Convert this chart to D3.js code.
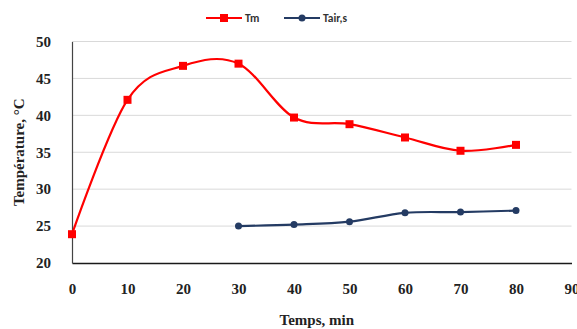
<!DOCTYPE html>
<html>
<head>
<meta charset="utf-8">
<script src="https://cdn.jsdelivr.net/npm/d3@7"></script>
<style>
  html, body { margin: 0; padding: 0; background: #fff; }
  svg { display: block; }
</style>
</head>
<body>
<svg id="chart" width="577" height="329"></svg>
<script>
// Time axis (min) and measured temperatures (°C)
const times = [0, 10, 20, 30, 40, 50, 60, 70, 80];
const tm = [23.9, 42.1, 46.7, 47.0, 39.7, 38.8, 37.0, 35.2, 36.0];
const airTimes = [30, 40, 50, 60, 70, 80];
const tairS = [25.0, 25.2, 25.6, 26.8, 26.9, 27.1];
const xTicks = [0, 10, 20, 30, 40, 50, 60, 70, 80, 90];
const yTicks = [20, 25, 30, 35, 40, 45, 50];
const seriesNames = ["Tm", "Tair,s"];

const svg = d3.select("#chart");
const plotLeft = 72, plotRight = 571.5, plotTop = 41.5, plotBottom = 263;
const serif = "'Liberation Serif', 'Times New Roman', serif";
const sans = "Carlito, 'Liberation Sans', Arial, sans-serif";
const red = "#ff0000", navy = "#243b63";
const smooth = d3.curveCardinal.tension(0);

const x = d3.scaleLinear().domain([0, 90]).range([plotLeft, plotRight]);
const y = d3.scaleLinear().domain([20, 50]).range([plotBottom, plotTop]);

// Horizontal gridlines
svg.append("g")
  .selectAll("line")
  .data(yTicks.filter(d => d > 20))
  .join("line")
  .attr("x1", plotLeft).attr("x2", plotRight)
  .attr("y1", d => y(d)).attr("y2", d => y(d))
  .attr("stroke", "#d9d9d9").attr("stroke-width", 1);

// Axes
const xAxis = svg.append("g")
  .attr("transform", `translate(0,${plotBottom})`)
  .call(d3.axisBottom(x).tickValues(xTicks).tickSize(0).tickPadding(20));
xAxis.select(".domain").attr("stroke", "#1a1a1a").attr("stroke-width", 1.5);
xAxis.selectAll("text")
  .attr("font-family", serif).attr("font-weight", "bold")
  .attr("font-size", 15).attr("fill", "#222");

const yAxis = svg.append("g")
  .attr("transform", `translate(${plotLeft},0)`)
  .call(d3.axisLeft(y).tickValues(yTicks).tickSize(0).tickPadding(21));
yAxis.select(".domain").attr("stroke", "#444").attr("stroke-width", 1.2);
yAxis.selectAll("text")
  .attr("font-family", serif).attr("font-weight", "bold")
  .attr("font-size", 15).attr("fill", "#222");

// Axis titles
svg.append("text")
  .attr("x", (plotLeft + plotRight) / 2 - 5).attr("y", 325)
  .attr("text-anchor", "middle")
  .attr("font-family", serif).attr("font-weight", "bold")
  .attr("font-size", 15).attr("fill", "#222")
  .text("Temps, min");

svg.append("text")
  .attr("transform", `translate(24,${(plotTop + plotBottom) / 2 + 0}) rotate(-90)`)
  .attr("text-anchor", "middle")
  .attr("font-family", serif).attr("font-weight", "bold")
  .attr("font-size", 15).attr("fill", "#222")
  .text("Température, °C");

// Tm: smoothed line with square markers
const tmData = times.map((t, i) => [t, tm[i]]);
svg.append("path")
  .datum(tmData)
  .attr("fill", "none").attr("stroke", red).attr("stroke-width", 2.2)
  .attr("d", d3.line().x(d => x(d[0])).y(d => y(d[1])).curve(smooth));
svg.append("g")
  .selectAll("rect")
  .data(tmData)
  .join("rect")
  .attr("x", d => x(d[0]) - 4).attr("y", d => y(d[1]) - 4)
  .attr("width", 8).attr("height", 8)
  .attr("fill", red);

// Tair,s: smoothed line with round markers
const airData = airTimes.map((t, i) => [t, tairS[i]]);
svg.append("path")
  .datum(airData)
  .attr("fill", "none").attr("stroke", navy).attr("stroke-width", 2.2)
  .attr("d", d3.line().x(d => x(d[0])).y(d => y(d[1])).curve(smooth));
svg.append("g")
  .selectAll("circle")
  .data(airData)
  .join("circle")
  .attr("cx", d => x(d[0])).attr("cy", d => y(d[1]))
  .attr("r", 3.5)
  .attr("fill", navy);

// Legend
const legend = svg.append("g").attr("transform", "translate(0,18)");
const items = [
  { name: seriesNames[0], color: red, x0: 206, marker: "square" },
  { name: seriesNames[1], color: navy, x0: 284, marker: "circle" }
];
items.forEach(it => {
  legend.append("line")
    .attr("x1", it.x0).attr("x2", it.x0 + 36)
    .attr("y1", 0).attr("y2", 0)
    .attr("stroke", it.color).attr("stroke-width", 2.2);
  if (it.marker === "square") {
    legend.append("rect")
      .attr("x", it.x0 + 14).attr("y", -4)
      .attr("width", 8).attr("height", 8).attr("fill", it.color);
  } else {
    legend.append("circle")
      .attr("cx", it.x0 + 18).attr("cy", 0).attr("r", 3.5).attr("fill", it.color);
  }
  legend.append("text")
    .attr("x", it.x0 + 39).attr("y", 4)
    .attr("font-family", sans).attr("font-weight", "bold")
    .attr("font-size", 11.5).attr("fill", "#333")
    .text(it.name);
});
</script>
</body>
</html>
